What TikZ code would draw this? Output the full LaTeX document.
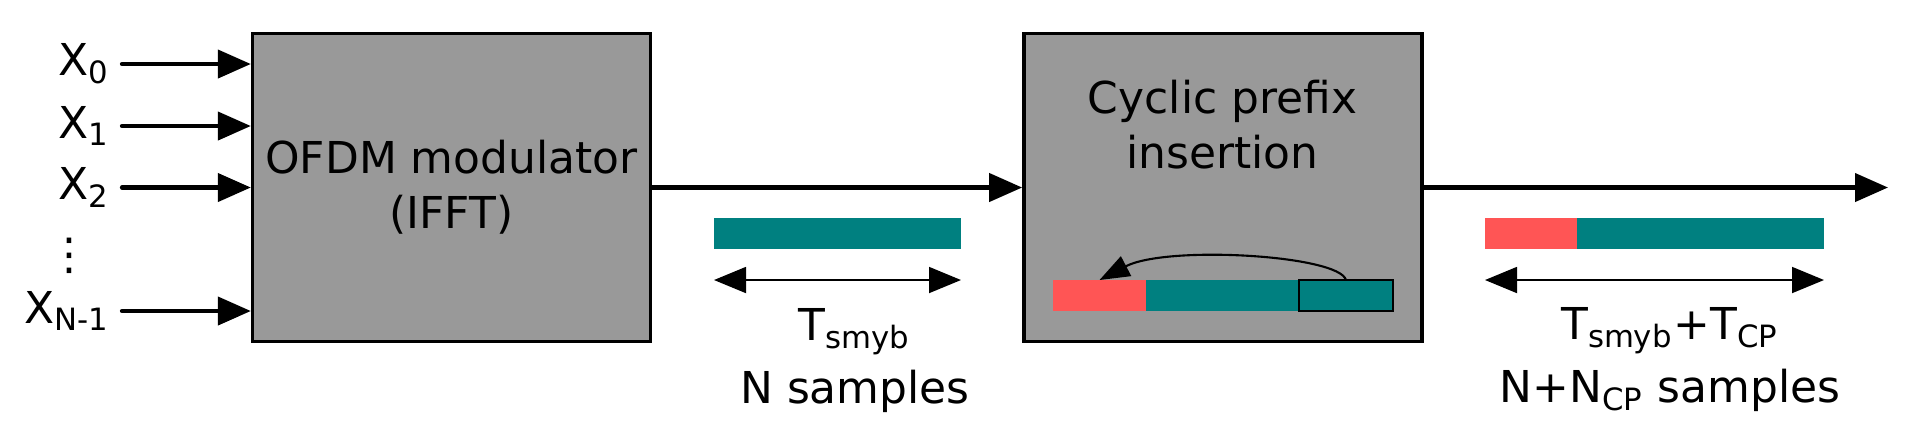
\documentclass[tikz,border=0pt]{standalone}
\usepackage{fontspec}
\setmainfont{DejaVu Sans}
\usepackage{tikz}
\usetikzlibrary{arrows.meta, positioning}
\definecolor{BlockGray}{RGB}{153, 153, 153}
\definecolor{SymTeal}{RGB}{0, 128, 128}
\definecolor{PrefixRed}{RGB}{255, 85, 85}
\tikzset{
  blk/.style={rectangle, draw=black, fill=BlockGray, line width=0.95pt,
    minimum width=3.98cm, minimum height=3.08cm, align=center,
    font=\fontsize{12.5}{15.6}\selectfont},
  txt/.style={align=center, font=\fontsize{12.5}{15.6}\selectfont},
  lbl/.style={align=center, font=\fontsize{12.5}{17.9}\selectfont},
  inp/.style={anchor=east, font=\fontsize{12.5}{15}\selectfont},
  slot/.style={rectangle, inner sep=0pt, outer sep=0pt, minimum height=0.31cm},
  symbar/.style={slot, fill=SymTeal},
  cpbar/.style={slot, fill=PrefixRed},
  arr/.style={-{Triangle[length=0.33cm, width=0.28cm]}, line width=1.2pt,
    line cap=round},
  dim/.style={{Triangle[length=0.32cm, width=0.26cm]}-{Triangle[length=0.32cm, width=0.26cm]},
    line width=0.5pt},
  carr/.style={-{Triangle[length=0.3cm, width=0.22cm]}, line width=0.6pt},
}
\begin{document}
\begin{tikzpicture}[node distance=0.31cm and 3.7cm]
  \useasboundingbox (0,0) rectangle (19.2,-4.46);
  \node[blk] (mod) at (4.515,-1.875) {OFDM modulator\\(IFFT)};
  \node[blk, right=of mod] (cp) {};
  \node[txt, anchor=base] (cptxt) at (12.225,-1.68) {Cyclic prefix\\insertion};
  \node[inp] (x0) at (1.22,-0.64) {X\textsubscript{0}};
  \node[inp] (x1) at (1.22,-1.26) {X\textsubscript{1}};
  \node[inp] (x2) at (1.22,-1.875) {X\textsubscript{2}};
  \node[txt, inner sep=0pt] (dots) at (0.69,-2.56) {⋮};
  \node[inp] (xn) at (1.22,-3.11) {X\textsubscript{N-1}};
  \foreach \i in {x0,x1,x2,xn}
    \draw[arr] (\i) -- (\i -| mod.west);
  \coordinate (out) at (18.88,-1.875);
  \draw[arr] (mod) -- (cp);
  \draw[arr] (cp) -- (out);

  \node[symbar, minimum width=2.47cm, anchor=north west] (sym) at (7.14,-2.18) {};
  \coordinate[below=of sym.south west] (syml);
  \coordinate[below=of sym.south east] (symr);
  \draw[dim] (syml) -- (symr);
  \node[lbl, anchor=base] (symtxt) at (8.55,-4.03) {T\textsubscript{smyb}\\N samples};

  \node[cpbar, minimum width=0.93cm, anchor=north west] (cpred) at (10.53,-2.80) {};
  \node[symbar, minimum width=2.47cm, right=0pt of cpred] (cpsym) {};
  \node[symbar, draw=black, line width=0.5pt, minimum width=0.94cm,
    anchor=north east] (cpcopy) at (cpsym.north east) {};
  \draw[carr] (cpcopy.north) .. controls +(-0.07,0.25) and +(0.67,0.35) .. (cpred.north);

  \node[cpbar, minimum width=0.92cm, anchor=north west] (ocp) at (14.85,-2.18) {};
  \node[symbar, minimum width=2.47cm, right=0pt of ocp] (osym) {};
  \coordinate[below=of ocp.south west] (ol);
  \coordinate[below=of osym.south east] (or);
  \draw[dim] (ol) -- (or);
  \node[lbl, anchor=base] (otxt) at (16.7,-4.02)
    {T\textsubscript{smyb}+T\textsubscript{CP}\\N+N\textsubscript{CP} samples};
\end{tikzpicture}
\end{document}
